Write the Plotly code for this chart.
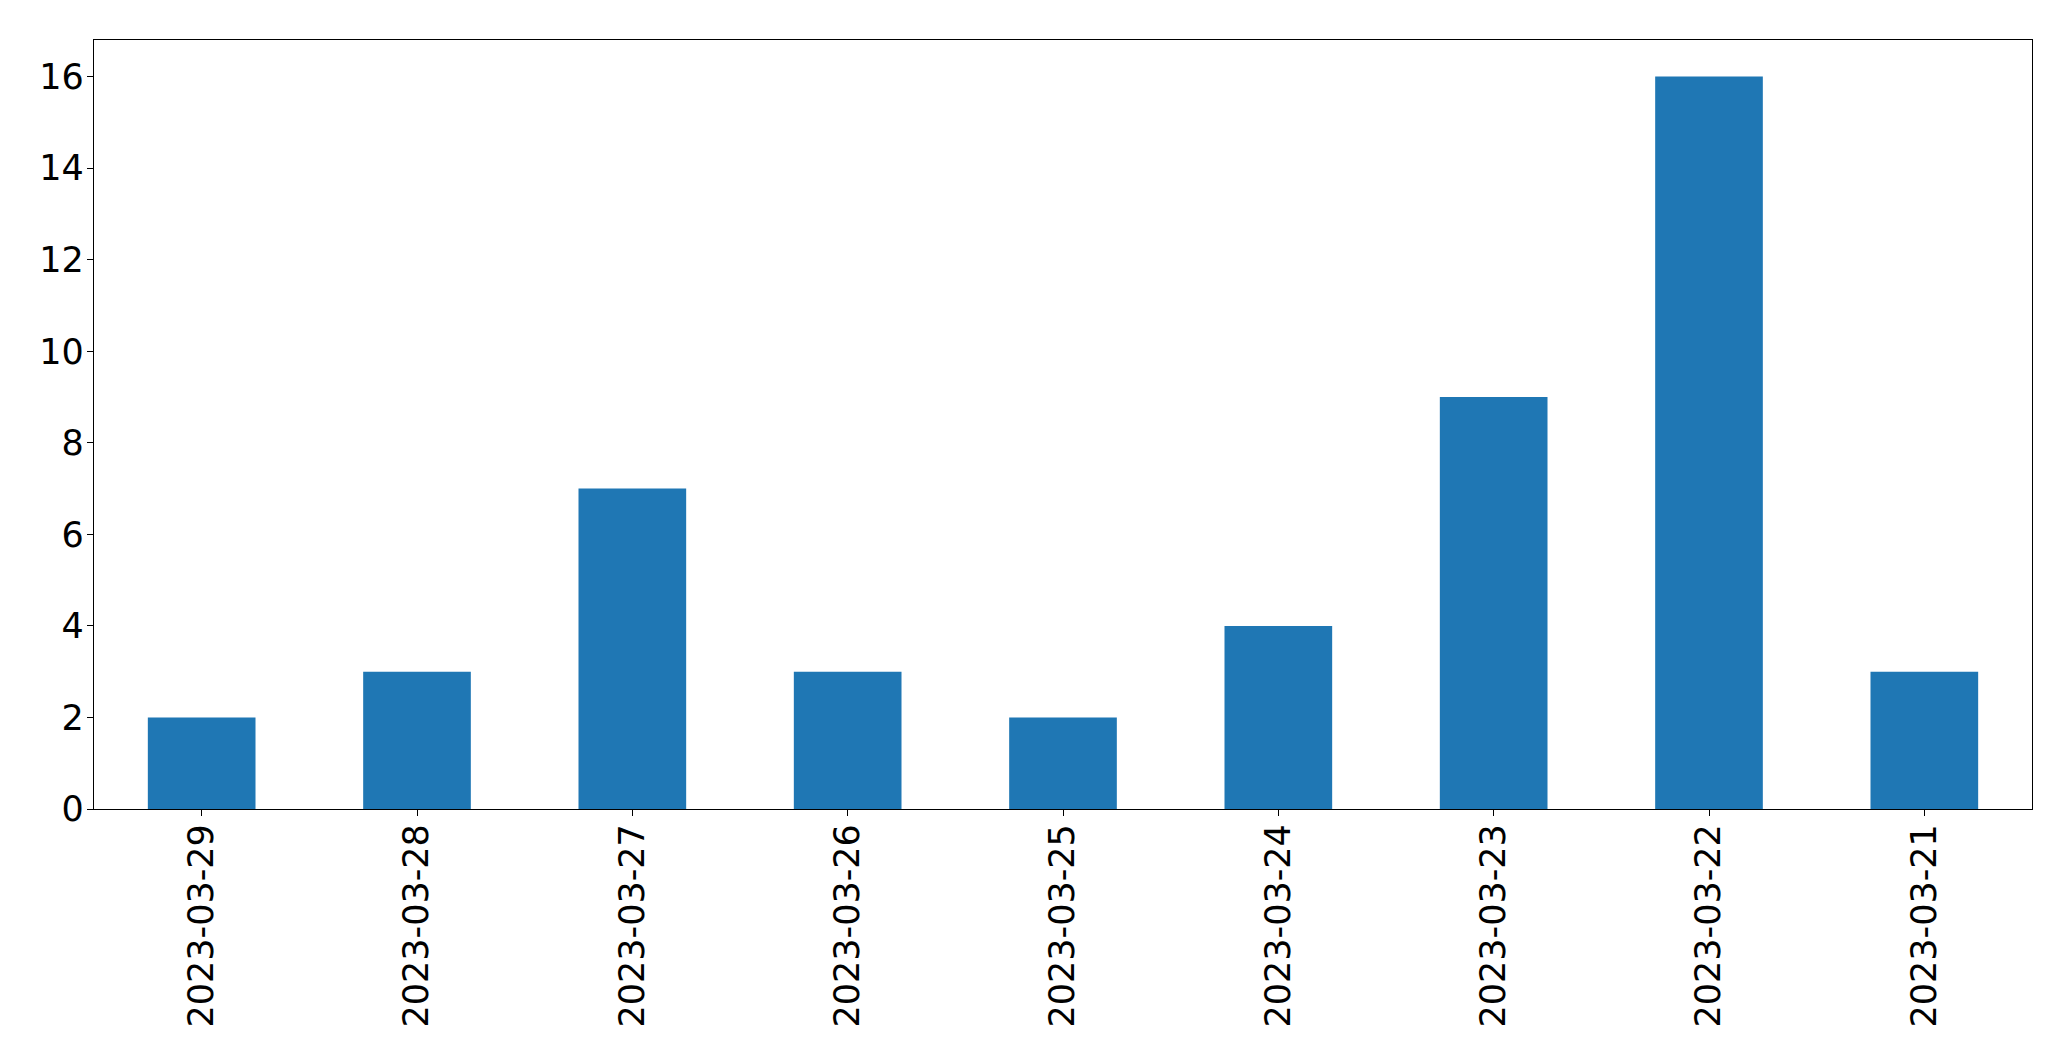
import plotly.graph_objects as go

dates = ["2023-03-29", "2023-03-28", "2023-03-27", "2023-03-26", "2023-03-25",
         "2023-03-24", "2023-03-23", "2023-03-22", "2023-03-21"]
counts = [2, 3, 7, 3, 2, 4, 9, 16, 3]
y_ticks = [0, 2, 4, 6, 8, 10, 12, 14, 16]

fig = go.Figure(go.Bar(x=dates, y=counts, width=0.5, marker=dict(color="#1f77b4", line=dict(width=0))))

font = dict(family="DejaVu Sans", size=35, color="black")
fig.update_layout(
    width=2071, height=1061,
    margin=dict(l=86, r=47, t=32, b=260, autoexpand=False),
    plot_bgcolor="white", paper_bgcolor="white",
    showlegend=False,
    font=font,
)
fig.update_xaxes(
    type="category", range=[-0.5, 8.5], tickangle=-90,
    showline=True, linecolor="black", linewidth=1.3, mirror=True,
    ticks="outside", ticklen=6, tickwidth=1.3, tickcolor="black",
    showgrid=False, zeroline=False, tickfont=font, ticklabelstandoff=-6,
)
fig.update_yaxes(
    range=[0, 16.8], tickvals=y_ticks, ticktext=[str(v) for v in y_ticks],
    showline=True, linecolor="black", linewidth=1.3, mirror=True,
    ticks="outside", ticklen=6, tickwidth=1.3, tickcolor="black",
    showgrid=False, zeroline=False, tickfont=font, ticklabelstandoff=-4,
)
fig.write_html("out.html")
